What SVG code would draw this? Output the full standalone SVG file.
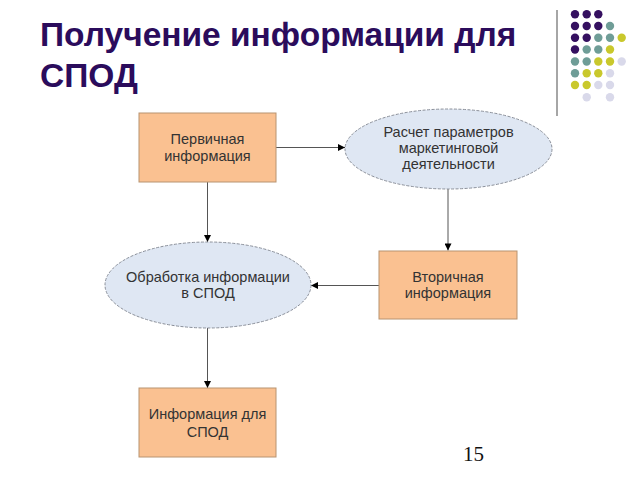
<svg xmlns="http://www.w3.org/2000/svg" width="640" height="480" viewBox="0 0 640 480">
<style>
.title{font-family:"Liberation Sans",Arial,sans-serif;font-weight:bold;font-size:33.5px;fill:#2b0c5c}
.lbl{font-family:"Liberation Sans",Arial,sans-serif;font-size:14.5px;fill:#333;text-anchor:middle}
.box{fill:#fac191;stroke:#b89370;stroke-width:1}
.ell{fill:#dfe7f3;stroke:#8a8f99;stroke-width:1;stroke-dasharray:3 1.5}
.con{stroke:#555;stroke-width:1;fill:none;marker-end:url(#ah)}
.p{fill:#351060}.t{fill:#6f9d97}.y{fill:#c9c82c}.l{fill:#d9d9ea}
</style>
<defs>
<marker id="ah" viewBox="0 0 10 10" refX="10" refY="5" markerWidth="9" markerHeight="7" markerUnits="userSpaceOnUse" orient="auto">
<path d="M0,0 L10,5 L0,10 z" fill="#000"/>
</marker>
</defs>
<rect width="640" height="480" fill="#fff"/>
<g id="title">
<text class="title" x="40" y="46">Получение информации для</text>
<text class="title" x="40" y="86.5">СПОД</text>
</g>
<g id="decor">
<line x1="557" y1="10" x2="557" y2="116" stroke="#888" stroke-width="1.5"/>
<circle class="p" cx="575" cy="14.3" r="4.2"/><circle class="p" cx="586.7" cy="14.3" r="4.2"/><circle class="p" cx="598.3" cy="14.3" r="4.2"/>
<circle class="p" cx="575" cy="26" r="4.2"/><circle class="p" cx="586.7" cy="26" r="4.2"/><circle class="p" cx="598.3" cy="26" r="4.2"/><circle class="t" cx="610" cy="26" r="4.2"/>
<circle class="p" cx="575" cy="37.7" r="4.2"/><circle class="p" cx="586.7" cy="37.7" r="4.2"/><circle class="t" cx="598.3" cy="37.7" r="4.2"/><circle class="t" cx="610" cy="37.7" r="4.2"/><circle class="y" cx="621.7" cy="37.7" r="4.2"/>
<circle class="p" cx="575" cy="49.5" r="4.2"/><circle class="t" cx="586.7" cy="49.5" r="4.2"/><circle class="t" cx="598.3" cy="49.5" r="4.2"/><circle class="y" cx="610" cy="49.5" r="4.2"/>
<circle class="t" cx="575" cy="61.5" r="4.2"/><circle class="t" cx="586.7" cy="61.5" r="4.2"/><circle class="y" cx="598.3" cy="61.5" r="4.2"/><circle class="y" cx="610" cy="61.5" r="4.2"/><circle class="l" cx="621.7" cy="61.5" r="4.2"/>
<circle class="t" cx="575" cy="73.3" r="4.2"/><circle class="y" cx="586.7" cy="73.3" r="4.2"/><circle class="y" cx="598.3" cy="73.3" r="4.2"/><circle class="l" cx="610" cy="73.3" r="4.2"/>
<circle class="y" cx="575" cy="85" r="4.2"/><circle class="y" cx="586.7" cy="85" r="4.2"/><circle class="l" cx="598.3" cy="85" r="4.2"/><circle class="l" cx="610" cy="85" r="4.2"/>
<circle class="l" cx="586.7" cy="97.3" r="4.2"/><circle class="l" cx="610" cy="97.3" r="4.2"/>
</g>
<g id="connectors">
<line class="con" x1="276" y1="147.5" x2="345" y2="147.5"/>
<line class="con" x1="207.5" y1="182" x2="207.5" y2="242"/>
<line class="con" x1="448" y1="189" x2="448" y2="250.5"/>
<line class="con" x1="379" y1="285.5" x2="311" y2="285.5"/>
<line class="con" x1="207.5" y1="328" x2="207.5" y2="388"/>
</g>
<g id="n1">
<rect class="box" x="139" y="113" width="137" height="69"/>
<text class="lbl" x="207.5" y="144">Первичная</text>
<text class="lbl" x="207.5" y="160.5">информация</text>
</g>
<g id="n2">
<ellipse class="ell" cx="448.5" cy="149" rx="103.5" ry="40"/>
<text class="lbl" x="448.5" y="136.5">Расчет параметров</text>
<text class="lbl" x="448.5" y="152.5">маркетинговой</text>
<text class="lbl" x="448.5" y="168.5">деятельности</text>
</g>
<g id="n3">
<ellipse class="ell" cx="208" cy="285" rx="103" ry="43"/>
<text class="lbl" x="208" y="281.5">Обработка информации</text>
<text class="lbl" x="208" y="298">в СПОД</text>
</g>
<g id="n4">
<rect class="box" x="379" y="251" width="138" height="68"/>
<text class="lbl" x="448" y="281.5">Вторичная</text>
<text class="lbl" x="448" y="298">информация</text>
</g>
<g id="n5">
<rect class="box" x="139" y="388" width="137" height="69"/>
<text class="lbl" x="207.5" y="418.5">Информация для</text>
<text class="lbl" x="207.5" y="437">СПОД</text>
</g>
<text x="463" y="461" font-family="Liberation Serif,'Times New Roman',serif" font-size="21" fill="#111">15</text>
</svg>
